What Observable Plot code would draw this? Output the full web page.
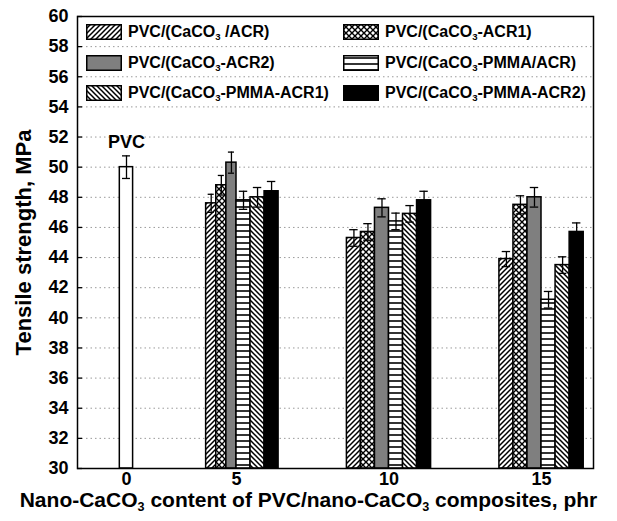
<!DOCTYPE html>
<html><head><meta charset="utf-8">
<script src="https://cdn.jsdelivr.net/npm/d3@7"></script>
<script src="https://cdn.jsdelivr.net/npm/@observablehq/plot@0.6"></script>
<style>
body{margin:0;background:#fff;font-family:"Liberation Sans",Arial,sans-serif;}
#wrap{position:relative;width:617px;height:521px;}
#legend{position:absolute;left:86px;top:17px;display:grid;grid-template-columns:257px auto;grid-auto-rows:30.5px;font-weight:bold;font-size:16px;color:#000;}
.item{display:flex;align-items:center;white-space:nowrap;}
.item svg{margin-right:6px;flex:none;}
sub{font-size:0.6em;line-height:0;vertical-align:-0.35em;}
#caption{position:absolute;left:0;top:488px;width:617px;text-align:center;font-weight:bold;font-size:21px;color:#000;white-space:nowrap;}
</style></head><body>
<div id="wrap"><div id="chart"></div><div id="legend"></div>
<div id="caption">Nano-CaCO<sub>3</sub> content of PVC/nano-CaCO<sub>3</sub> composites, phr</div></div>
<script>
// ---- data ----
const contents = [5, 10, 15];
const seriesNames = ["PVC/(CaCO3 /ACR)", "PVC/(CaCO3-ACR1)", "PVC/(CaCO3-ACR2)", "PVC/(CaCO3-PMMA/ACR)", "PVC/(CaCO3-PMMA-ACR1)", "PVC/(CaCO3-PMMA-ACR2)"];
const acr      = [47.6, 45.3, 43.9];
const acr1     = [48.8, 45.7, 47.5];
const acr2     = [50.3, 47.3, 48.0];
const pmmaAcr  = [47.8, 46.4, 41.2];
const pmmaAcr1 = [48.0, 46.9, 43.5];
const pmmaAcr2 = [48.4, 47.8, 45.7];
const acrErr      = [0.6, 0.55, 0.5];
const acr1Err     = [0.65, 0.55, 0.6];
const acr2Err     = [0.7, 0.6, 0.65];
const pmmaAcrErr  = [0.6, 0.55, 0.55];
const pmmaAcr1Err = [0.65, 0.55, 0.55];
const pmmaAcr2Err = [0.65, 0.6, 0.6];
const pvcLabel = "PVC";
const pvcContent = 0;
const pvcValue = 50.0;
const pvcErr = 0.75;
const yTicks = d3.range(30, 61, 2);
const xTicks = [0, 5, 10, 15];
const yDomain = [30, 60];

// ---- styling / layout ----
const seriesFills = ["url(#hatchF)", "url(#cross)", "#7f7f7f", "url(#horiz)", "url(#hatchB)", "#000"];
const barW = 0.46, pvcBarW = 0.6, capFrac = 0.3;

const values = [acr, acr1, acr2, pmmaAcr, pmmaAcr1, pmmaAcr2];
const errors = [acrErr, acr1Err, acr2Err, pmmaAcrErr, pmmaAcr1Err, pmmaAcr2Err];
const rows = [];
seriesNames.forEach((name, i) => contents.forEach((c, j) => rows.push({
  series: i, name, content: c, value: values[i][j], err: errors[i][j],
  x1: c + (i - 3) * barW, x2: c + (i - 2) * barW, xc: c + (i - 2.5) * barW, cap: capFrac * barW
})));
const pvcRow = {content: pvcContent, value: pvcValue, err: pvcErr,
  x1: pvcContent - pvcBarW / 2, x2: pvcContent + pvcBarW / 2, xc: pvcContent, cap: capFrac * pvcBarW};
const allRows = [pvcRow, ...rows];

const marks = [
  Plot.gridY(d3.range(32, 59, 2), {stroke: "#9a9a9a", strokeOpacity: 1, strokeDasharray: "1.5,3", strokeWidth: 1}),
  Plot.rectY([pvcRow], {x1: "x1", x2: "x2", y1: () => yDomain[0], y2: "value", fill: "white", stroke: "black", strokeWidth: 1.5}),
  ...seriesFills.map((f, i) => Plot.rectY(rows.filter(d => d.series === i), {x1: "x1", x2: "x2", y1: () => yDomain[0], y2: "value", fill: f, stroke: "black", strokeWidth: 1.5})),
  Plot.ruleX(allRows, {x: "xc", y1: d => d.value - d.err, y2: d => d.value + d.err, stroke: "black", strokeWidth: 1.3}),
  Plot.ruleY(allRows, {y: d => d.value + d.err, x1: d => d.xc - d.cap, x2: d => d.xc + d.cap, stroke: "black", strokeWidth: 1.3}),
  Plot.ruleY(allRows, {y: d => d.value - d.err, x1: d => d.xc - d.cap, x2: d => d.xc + d.cap, stroke: "black", strokeWidth: 1.3}),
  Plot.text([pvcRow], {x: "xc", y: d => d.value + d.err, text: () => pvcLabel, lineAnchor: "bottom", dy: -8, fontSize: 18, fontWeight: "bold", fill: "black"}),
  Plot.axisY({ticks: yTicks, tickSize: 0, tickPadding: 9, label: null, fontSize: 18}),
  Plot.axisY({ticks: yTicks, tickSize: -5, text: null, label: null, strokeWidth: 1.3}),
  Plot.axisY({ticks: [], label: "Tensile strength, MPa", labelAnchor: "center", labelOffset: 62, labelArrow: "none", fontSize: 22}),
  Plot.axisX({ticks: xTicks, tickSize: 0, tickPadding: 4, label: null, fontSize: 18}),
  Plot.frame({stroke: "black", strokeWidth: 1.5})
];

const svg = Plot.plot({
  width: 617, height: 490,
  marginLeft: 77, marginRight: 24, marginTop: 16, marginBottom: 22,
  style: {fontFamily: "'Liberation Sans', Arial, sans-serif", fontWeight: "bold", color: "black", background: "white"},
  x: {type: "linear", domain: [-2.2, 0, 5, 15, 16.7], range: [77, 126, 236, 541, 593]},
  y: {domain: yDomain},
  marks
});

// patterns
const NS = "http://www.w3.org/2000/svg";
function el(tag, attrs, parent) {
  const e = document.createElementNS(NS, tag);
  for (const k in attrs) e.setAttribute(k, attrs[k]);
  if (parent) parent.appendChild(e);
  return e;
}
const defs = el("defs", {});
function pat(id, w, h, draw) {
  const p = el("pattern", {id, patternUnits: "userSpaceOnUse", width: w, height: h}, defs);
  el("rect", {width: w, height: h, fill: "#fff"}, p);
  draw(p);
}
pat("hatchF", 5, 5, p => el("path", {d: "M-1,1 L1,-1 M0,5 L5,0 M4,6 L6,4", stroke: "#000", "stroke-width": 1.5}, p));
pat("hatchB", 5, 5, p => el("path", {d: "M-1,4 L1,6 M0,0 L5,5 M4,-1 L6,1", stroke: "#000", "stroke-width": 1.5}, p));
pat("horiz", 6, 6, p => el("path", {d: "M0,3 H6", stroke: "#000", "stroke-width": 1.6}, p));
pat("cross", 6, 6, p => el("path", {d: "M0,0 L6,6 M6,0 L0,6", stroke: "#000", "stroke-width": 1.4}, p));
svg.insertBefore(defs, svg.firstChild);
document.getElementById("chart").appendChild(svg);

// legend
const legend = d3.select("#legend");
seriesNames.forEach((name, i) => {
  const item = legend.append("div").attr("class", "item");
  const s = item.append("svg").attr("width", 36).attr("height", 16);
  s.append("rect").attr("x", 0.75).attr("y", 0.75).attr("width", 34.5).attr("height", 14.5)
    .attr("fill", seriesFills[i]).attr("stroke", "#000").attr("stroke-width", 1.5);
  item.append("span").html(name.replace("CaCO3", "CaCO<sub>3</sub>"));
});
</script>
</body></html>
